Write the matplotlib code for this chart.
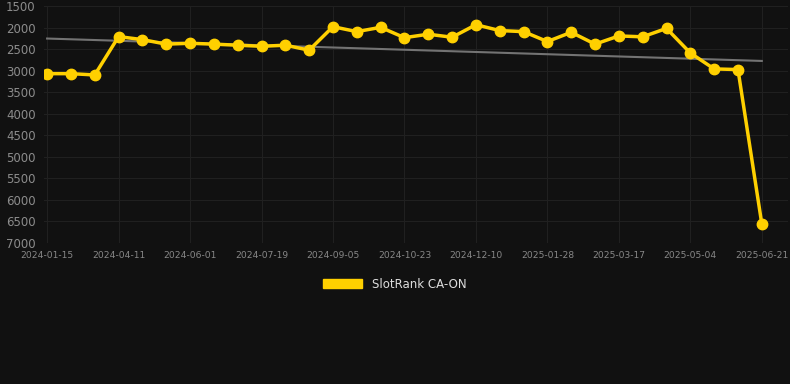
import matplotlib.pyplot as plt
import numpy as np

# rank values (lower is better, axis inverted)
ranks = [3070, 3070, 3100, 2210, 2280, 2385, 2365, 2385, 2410, 2435,
         2410, 2525, 1980, 2095, 1995, 2235, 2155, 2225, 1935, 2070,
         2095, 2325, 2110, 2385, 2195, 2215, 2020, 2590, 2960, 2975, 6555]
tick_labels = ['2024-01-15', '2024-04-11', '2024-06-01', '2024-07-19',
               '2024-09-05', '2024-10-23', '2024-12-10', '2025-01-28',
               '2025-03-17', '2025-05-04', '2025-06-21']
trend_ends = [2255, 2775]
series_name = 'SlotRank CA-ON'

bg = '#111111'
yellow = '#ffd000'

fig = plt.figure(figsize=(7.9, 3.84), dpi=100, facecolor=bg)
ax = fig.add_axes([44 / 790, 1 - 243 / 384, (788 - 44) / 790, (243 - 6) / 384])
ax.set_facecolor(bg)

x = np.arange(len(ranks))
ax.plot([x[0], x[-1]], trend_ends, color='#737373', lw=1.5, zorder=2)
ax.plot(x, ranks, color=yellow, lw=2.5, marker='o', ms=7.5, zorder=3, label=series_name)

ax.set_ylim(7000, 1500)
ax.set_yticks(np.arange(1500, 7001, 500))
ax.set_xlim(-0.13, 31.1)
ax.set_xticks(x[::3])
ax.set_xticklabels(tick_labels)

ax.grid(True, color='#202020', lw=0.8)
for s in ax.spines.values():
    s.set_visible(False)
ax.tick_params(colors='#888888', length=0)
ax.tick_params(axis='y', labelsize=8.5, pad=6)
ax.tick_params(axis='x', labelsize=6.6, pad=6)
for lbl in ax.get_yticklabels():
    lbl.set_color('#8c8c8c')

h = plt.Rectangle((0, 0), 1, 1, color=yellow)
leg = fig.legend([h], [series_name], loc='center', bbox_to_anchor=(0.5, 1 - 284 / 384),
                 frameon=False, fontsize=8.5, handlelength=3.3, handleheight=0.9,
                 labelcolor='#dddddd')

fig.savefig('out.png', dpi=100, facecolor=bg)
